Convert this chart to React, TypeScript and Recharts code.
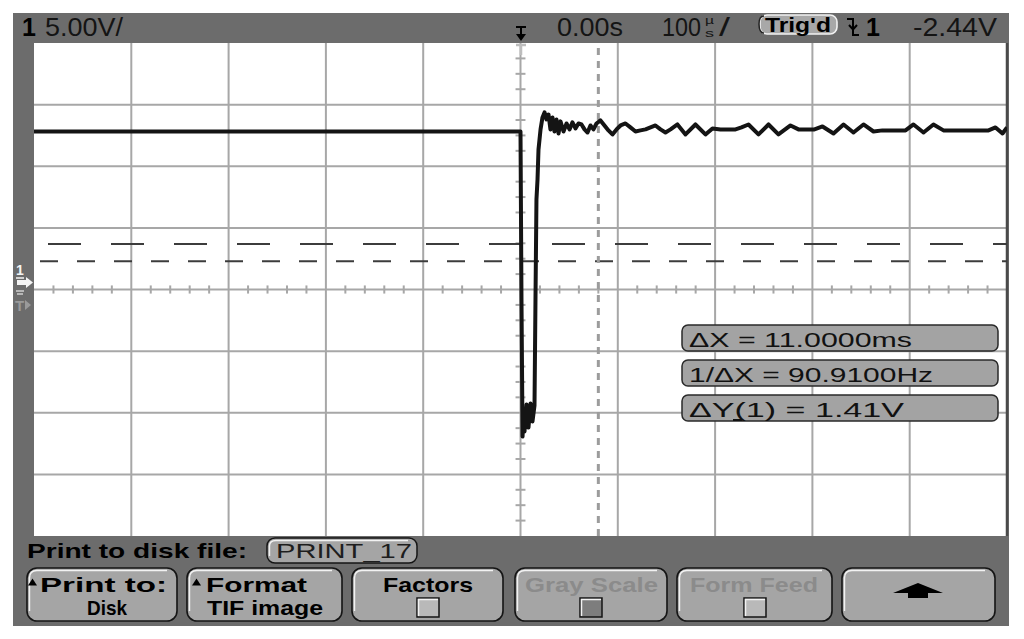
import { LineChart, Line, XAxis, YAxis, ReferenceLine } from "recharts";

// channel 1 capture, time in µs from trigger, level in volts (5 V/div)
const timeUs = [
  -500, -250, -1, 0, 1, 2.1, 3.1, 4.1, 6.2, 8.2,
  10.3, 12.3, 14.4, 15.4, 16.4, 17.5, 18.5, 20.6, 22.6, 24.7,
  26.7, 28.8, 30.8, 32.9, 34.9, 37, 39.1, 41.1, 44.2, 47.3,
  50.4, 53.4, 56.5, 59.6, 62.7, 65.8, 68.9, 71.9, 75, 78.1,
  82.2, 86.3, 90.4, 94.5, 98.7, 102.8, 107.9, 113, 118.2, 123.3,
  128.5, 133.6, 138.7, 143.9, 149, 154.2, 161.3, 169.6, 179.8, 190.1,
  197.3, 205.5, 213.8, 221, 227.1, 234.3, 244.6, 254.9, 265.1, 277.5,
  285.7, 293.9, 302.1, 310.4, 321.7, 332, 342.2, 352.5, 362.8, 372,
  380.2, 388.5, 395.7, 403.9, 414.2, 424.4, 434.7, 447, 457.3, 467.6,
  481, 488.2, 495.4, 500,
];
const ch1Volts = [
  12.82, 12.82, 12.82, 12.82, -0.81, -11.93, -10.15, -11.53, -9.33, -11.2,
  -9.25, -10.71, -9.42, -0.81, 7.31, 8.93, 11.36, 12.99, 13.96, 14.37,
  13.8, 14.2, 12.99, 13.96, 12.82, 13.8, 12.66, 13.64, 12.82, 13.47,
  12.99, 13.56, 13.07, 13.47, 13.39, 12.99, 12.74, 13.31, 12.99, 13.47,
  13.72, 13.31, 12.91, 12.58, 12.99, 13.31, 13.47, 13.15, 12.82, 12.91,
  12.99, 13.15, 13.31, 12.99, 12.74, 12.99, 13.39, 12.58, 13.39, 12.58,
  13.07, 12.99, 12.99, 12.99, 13.15, 13.39, 12.58, 13.39, 12.58, 13.31,
  12.99, 12.99, 12.99, 13.23, 12.66, 13.39, 12.74, 13.39, 12.82, 12.91,
  12.91, 12.91, 12.91, 13.39, 12.74, 13.39, 12.91, 12.91, 12.91, 12.91,
  12.91, 13.15, 12.66, 13.15,
];

const xDivs = [-400, -300, -200, -100, 0, 100, 200, 300, 400];
const yDivs = [-15, -10, -5, 0, 5, 10, 15];
const cursorX = 80;
const cursorY = [3.7, 2.29];

const readouts = ["ΔX = 11.0000ms", "1/ΔX = 90.9100Hz", "ΔY(1) = 1.41V"];

const trace = timeUs.map((t, i) => ({ t, v: ch1Volts[i] }));

const xMinor: number[] = [];
for (let t = -480; t < 500; t += 20) if (t % 100 !== 0) xMinor.push(t);
const yMinor: number[] = [];
for (let v = -18.75; v < 20; v += 1.25) if (v % 5 !== 0) yMinor.push(v);

const FONT = "'Liberation Sans', Arial, sans-serif";
const GRID = "#a7a7a7";
const FRAME = "#6c6c6c";
const KEY = "#a5a5a5";

function Txt({ x, y, w, size, bold, fill = "#141414", children }: {
  x: number; y: number; w?: number; size: number; bold?: boolean; fill?: string; children: string;
}) {
  return (
    <text
      x={x} y={y} fontSize={size} fontFamily={FONT} fontWeight={bold ? 700 : 400} fill={fill}
      textLength={w} lengthAdjust={w ? "spacingAndGlyphs" : undefined}
    >{children}</text>
  );
}

function Key({ x, w, y = 568, h = 53 }: { x: number; w: number; y?: number; h?: number }) {
  return (
    <g>
      <rect x={x} y={y} width={w} height={h} rx={10} fill={KEY} stroke="#151515" strokeWidth={1.6} />
      <path d={`M${x + 2.5} ${y + h - 10} V${y + 10} Q${x + 2.5} ${y + 2.5} ${x + 10} ${y + 2.5} H${x + w - 10}`}
        fill="none" stroke="#f2f2f2" strokeWidth={1.4} />
    </g>
  );
}

function Check({ x, fill = "#b9b9b9" }: { x: number; fill?: string }) {
  return (
    <g>
      <rect x={x} y={598} width={22} height={19} fill={fill} stroke="#151515" strokeWidth={1.5} />
      <path d={`M${x + 1.5} ${616} V${599.5} H${x + 21}`} fill="none" stroke="#f2f2f2" strokeWidth={1.5} />
    </g>
  );
}

export default function App() {
  return (
    <div style={{ position: "absolute", left: 0, top: 0, width: 1024, height: 639, background: "#fff" }}>
      <svg width={1024} height={639} style={{ position: "absolute", left: 0, top: 0 }}>
        <rect x={13} y={13} width={996} height={613} fill={FRAME} />
        <rect x={34} y={43} width={973} height={493} fill="#fff" />

        {/* status line */}
        <Txt x={22} y={36} size={25} bold fill="#000">1</Txt>
        <Txt x={45} y={36} w={78} size={25}>5.00V/</Txt>
        <Txt x={557} y={36} w={66} size={25}>0.00s</Txt>
        <Txt x={662} y={36} w={39} size={25}>100</Txt>
        <Txt x={705} y={24} w={9} size={11}>µ</Txt>
        <Txt x={705} y={37} w={9} size={11}>s</Txt>
        <Txt x={719} y={36} w={11} size={25}>/</Txt>
        <rect x={760} y={15} width={77} height={19} rx={7} fill="#a8a8a8" stroke="#f2f2f2" strokeWidth={1.6} />
        <path d="M764 16 Q759 16 759 24 Q759 33 764 33" fill="none" stroke="#222" strokeWidth={1.5} />
        <Txt x={765} y={32} w={66} size={20} bold fill="#000">Trig'd</Txt>
        <path d="M847 19 H853 V35 H859 M849 25 L853 29.5 L857 25" fill="none" stroke="#000" strokeWidth={2} />
        <Txt x={866} y={36} size={25} bold fill="#000">1</Txt>
        <Txt x={913} y={36} w={84} size={25}>-2.44V</Txt>

        {/* softkey area */}
        <Txt x={27} y={558} w={220} size={21} bold fill="#000">Print to disk file:</Txt>
        <rect x={267} y={538} width={150} height={25} rx={8} fill={KEY} stroke="#151515" strokeWidth={1.5} />
        <path d="M269.5 556 V546 Q269.5 540.5 276 540.5 H408" fill="none" stroke="#f2f2f2" strokeWidth={1.4} />
        <Txt x={276} y={558} w={136} size={21} fill="#1e1e1e">PRINT_17</Txt>

        <Key x={27} w={150} />
        <Key x={187} w={155} />
        <Key x={352} w={151} />
        <Key x={515} w={152} />
        <Key x={677} w={155} />
        <Key x={842} w={153} />

        <path d="M28 585.5 L32.5 578.5 L37 585.5 Z" fill="#000" />
        <Txt x={40} y={592} w={127} size={21} bold fill="#000">Print to:</Txt>
        <Txt x={87} y={615} w={40} size={21} bold fill="#000">Disk</Txt>
        <path d="M192 585.5 L196.5 578.5 L201 585.5 Z" fill="#000" />
        <Txt x={206} y={592} w={101} size={21} bold fill="#000">Format</Txt>
        <Txt x={207} y={615} w={116} size={21} bold fill="#000">TIF image</Txt>
        <Txt x={383} y={592} w={90} size={21} bold fill="#000">Factors</Txt>
        <Check x={417} />
        <Txt x={525} y={592} w={133} size={21} bold fill="#8b8b8b">Gray Scale</Txt>
        <Check x={580} fill="#7d7d7d" />
        <Txt x={690} y={592} w={128} size={21} bold fill="#8b8b8b">Form Feed</Txt>
        <Check x={744} />
        <path d="M893 593 L918 583 L943 593 L928 593 L928 598 L908 598 L908 593 Z" fill="#000" />
      </svg>

      <LineChart
        width={1024} height={639} data={trace}
        margin={{ top: 43, right: 17, bottom: 103, left: 34 }}
        style={{ position: "absolute", left: 0, top: 0 }}
      >
        <XAxis dataKey="t" type="number" domain={[-500, 500]} hide allowDataOverflow />
        <YAxis type="number" domain={[-20, 20]} hide allowDataOverflow />
        {xDivs.map((t) => (
          <ReferenceLine key={`vx${t}`} x={t} stroke={GRID} strokeWidth={2} />
        ))}
        {yDivs.map((v) => (
          <ReferenceLine key={`hy${v}`} y={v} stroke={GRID} strokeWidth={2} />
        ))}
        <ReferenceLine x={500} stroke="#4a4a4a" strokeWidth={2.5} />
        {xMinor.map((t) => (
          <ReferenceLine key={`mx${t}`} segment={[{ x: t, y: -0.33 }, { x: t, y: 0.33 }]} stroke={GRID} strokeWidth={2} />
        ))}
        {yMinor.map((v) => (
          <ReferenceLine key={`my${v}`} segment={[{ x: -5.1, y: v }, { x: 5.1, y: v }]} stroke={GRID} strokeWidth={2} />
        ))}
        <ReferenceLine y={cursorY[0]} stroke="#3c3c3c" strokeWidth={2} strokeDasharray="0 14 33 16" />
        <ReferenceLine y={cursorY[1]} stroke="#3c3c3c" strokeWidth={2} strokeDasharray="0 6 18 13" />
        <ReferenceLine x={cursorX} stroke="#9c9c9c" strokeWidth={3} strokeDasharray="7 6" />
        <Line
          type="linear" dataKey="v" stroke="#141414" strokeWidth={4}
          dot={false} isAnimationActive={false} strokeLinejoin="round"
        />
      </LineChart>

      <svg width={1024} height={639} style={{ position: "absolute", left: 0, top: 0, pointerEvents: "none" }}>
        {/* trigger position marker */}
        <path d="M516 27 H526 M521 27 V35" stroke="#000" strokeWidth={2} fill="none" />
        <path d="M516 34 L526 34 L521 41 Z" fill="#000" />
        <path d="M516 45 H526 M521 45 V55" stroke="#bdbdbd" strokeWidth={2.5} fill="none" />

        {/* channel ground and trigger level markers */}
        <Txt x={16} y={275} size={14} bold fill="#f4f4f4">1</Txt>
        <path d="M16 278 H24" stroke="#f4f4f4" strokeWidth={1.5} />
        <path d="M17 280 H26 V277 L33 282.5 L26 288 V285 H17 Z" fill="#f4f4f4" />
        <path d="M16 291 H24 M17 294 H23" stroke="#cfcfcf" strokeWidth={1.5} />
        <Txt x={15} y={311} size={15} bold fill="#9a9a9a">T</Txt>
        <path d="M25 300 L31 305 L25 310 Z" fill="#9a9a9a" />

        {/* measurement readouts */}
        {readouts.map((r, i) => {
          const top = [325, 360, 395][i];
          const w = [223, 244, 215][i];
          return (
            <g key={r}>
              <rect x={682} y={top} width={316} height={26} rx={6} fill="#a3a3a3" stroke="#2a2a2a" strokeWidth={1.5} />
              <Txt x={689} y={top + 22} w={w} size={21} fill="#111">{r}</Txt>
            </g>
          );
        })}
        <path d="M733 420 H742" stroke="#111" strokeWidth={2} />
      </svg>
    </div>
  );
}
